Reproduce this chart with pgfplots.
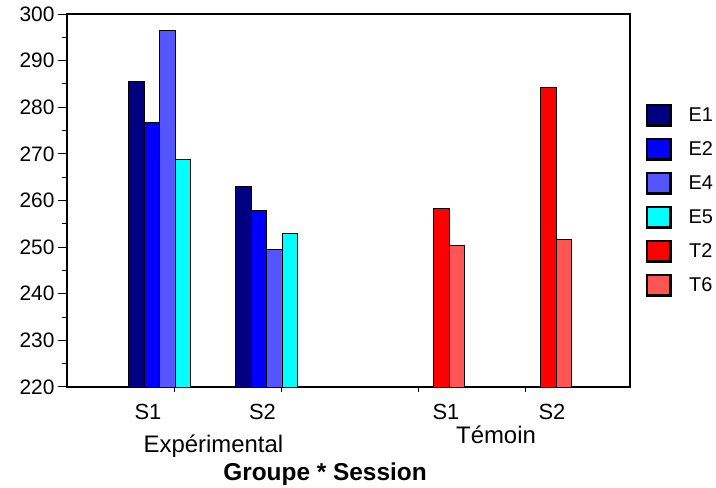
\documentclass[border=0pt]{standalone}
\usepackage{fontspec}
\setmainfont{Liberation Sans}
\usepackage{pgfplots}
\pgfplotsset{compat=1.18}

\definecolor{cE1}{RGB}{0,0,128}
\definecolor{cE2}{RGB}{0,0,255}
\definecolor{cE4}{RGB}{85,85,255}
\definecolor{cE5}{RGB}{0,255,255}
\definecolor{cT2}{RGB}{255,0,0}
\definecolor{cT6}{RGB}{255,85,85}

\pgfplotsset{
  sq/.style={legend image code/.code={
    \draw[##1, draw=black, line width=2.6bp] (0bp,-10.2bp) rectangle (23.5bp,10.2bp);}},
}

\begin{document}
\begin{tikzpicture}
\begin{axis}[
  at={(67bp,101bp)}, anchor=south west,
  scale only axis, width=563bp, height=373bp,
  clip=false,
  ybar=0pt, bar width=0.145,
  xmin=-1.009, xmax=4.252,
  ymin=220, ymax=300,
  ytick={220,230,...,300},
  minor y tick num=1,
  extra y ticks={220,230,...,300},
  extra y tick labels={},
  extra y tick style={major tick length=9bp},
  xtick={0,1,2.271,3.271},
  xticklabels={},
  xtick pos=bottom, ytick pos=left,
  tick align=outside,
  major tick length=5bp, minor tick length=5bp,
  axis line style={line width=1.5bp},
  tick style={line width=1bp, black},
  /pgf/number format/assume math mode=true,
  tick label style={font=\fontsize{21}{24}\selectfont},
  yticklabel style={xshift=-4bp},
  legend style={draw=none, at={(1.022,0.765)}, anchor=north west,
    font=\fontsize{20}{23}\selectfont, row sep=11bp,
    /tikz/every odd column/.append style={column sep=15bp}},
  every axis plot/.append style={draw=black, line width=0.8bp},
]
\addplot[fill=cE1, bar shift=-0.3625, sq] coordinates {(0,285.6) (1,263.1)};
\addlegendentry{E1}
\addplot[fill=cE2, bar shift=-0.2175, sq] coordinates {(0,276.7) (1,257.9)};
\addlegendentry{E2}
\addplot[fill=cE4, bar shift=-0.0725, sq] coordinates {(0,296.4) (1,249.5)};
\addlegendentry{E4}
\addplot[fill=cE5, bar shift=0.0725, sq] coordinates {(0,268.8) (1,252.9)};
\addlegendentry{E5}
\addplot[fill=cT2, bar shift=0.2175, sq] coordinates {(2.271,258.3) (3.271,284.3)};
\addlegendentry{T2}
\addplot[fill=cT6, bar shift=0.3625, sq] coordinates {(2.271,250.4) (3.271,251.6)};
\addlegendentry{T6}
\end{axis}
\begin{scope}[every node/.style={anchor=base, font=\fontsize{22}{26}\selectfont}]
\node at (148bp,68bp) {S1};
\node at (262.5bp,68bp) {S2};
\node at (446bp,68bp) {S1};
\node at (552bp,68bp) {S2};
\end{scope}
\node[anchor=base, font=\fontsize{24}{28}\selectfont] at (213.5bp,36bp) {Expérimental};
\node[anchor=base, font=\fontsize{24}{28}\selectfont] at (496bp,44bp) {Témoin};
\node[anchor=base, font=\bfseries\fontsize{24.5}{28}\selectfont] at (325bp,8bp) {Groupe * Session};
\pgfresetboundingbox
\path (0,0) rectangle (716bp,488bp);
\end{tikzpicture}
\end{document}
